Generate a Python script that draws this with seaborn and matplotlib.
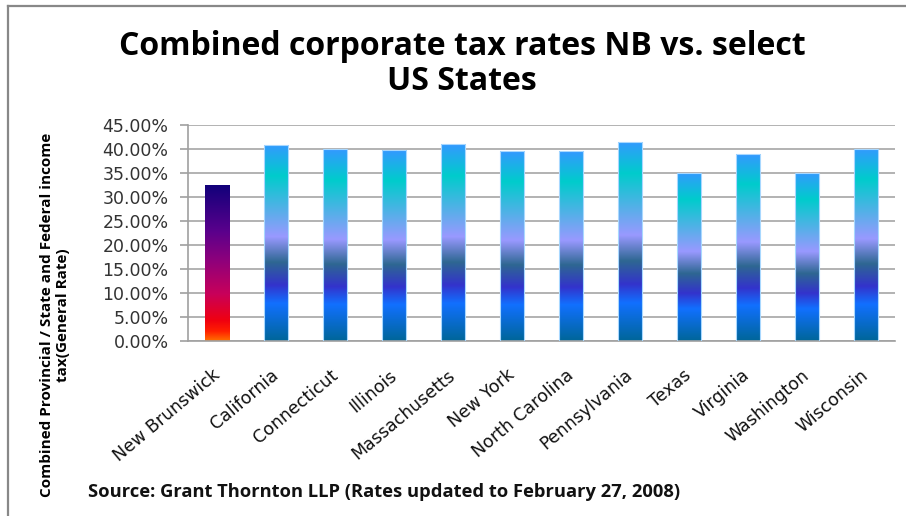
import matplotlib
matplotlib.use('Agg')
import matplotlib.pyplot as plt
import numpy as np
import pandas as pd
import seaborn as sns
from matplotlib.colors import LinearSegmentedColormap
from matplotlib.ticker import PercentFormatter
from matplotlib.lines import Line2D

# Data (percent)
regions = ['New Brunswick', 'California', 'Connecticut', 'Illinois', 'Massachusetts',
           'New York', 'North Carolina', 'Pennsylvania', 'Texas', 'Virginia',
           'Washington', 'Wisconsin']
rates = [32.5, 40.8, 39.9, 39.7, 41.0, 39.5, 39.5, 41.5, 35.0, 38.9, 35.0, 40.0]
yticks = [0, 5, 10, 15, 20, 25, 30, 35, 40, 45]

title = 'Combined corporate tax rates NB vs. select\nUS States'
ylabel = 'Combined Provincial / State and Federal income\ntax(General Rate)'
source = 'Source: Grant Thornton LLP (Rates updated to February 27, 2008)'

df = pd.DataFrame({'region': regions, 'rate': rates})

# gradient fills (bottom -> top)
peacock = LinearSegmentedColormap.from_list('peacock', [
    (0.0, '#006699'), (0.19, '#1170ff'), (0.283, '#3333cc'), (0.40, '#2e6792'),
    (0.53, '#9999ff'), (0.84, '#00cccc'), (1.0, '#3399ff')])
fire = LinearSegmentedColormap.from_list('nb', [
    (0.0, '#ff7000'), (0.06, '#ff2000'), (0.13, '#f00010'), (0.3, '#c8005a'),
    (0.5, '#92007a'), (0.7, '#5a008c'), (1.0, '#10007a')])

fig = plt.figure(figsize=(9.06, 5.16), dpi=100)
ax = fig.add_axes([0.2075, 0.339, 0.7805, 0.419])

sns.barplot(data=df, x='region', y='rate', color='#3399ff', width=0.41, ax=ax, zorder=2)

grad = np.linspace(0, 1, 256).reshape(-1, 1)
for i, patch in enumerate(ax.patches):
    x0 = patch.get_x()
    w = patch.get_width()
    h = patch.get_height()
    cmap = fire if i == 0 else peacock
    im = ax.imshow(grad, cmap=cmap, origin='lower', aspect='auto',
                   extent=[x0, x0 + w, 0, h], zorder=2)
    im.set_clip_path(patch)
    patch.set_facecolor('none')
    patch.set_edgecolor('none' if i == 0 else '#a8d8ff')
    patch.set_linewidth(0.8)
    patch.set_zorder(3)

ax.set_xlim(-0.5, len(regions) - 0.5)
ax.set_ylim(0, 45)
ax.set_yticks(yticks)
ax.yaxis.set_major_formatter(PercentFormatter(xmax=100, decimals=2))
ax.grid(axis='y', color='#a6a6a6', linewidth=1.2, zorder=0)
ax.set_axisbelow(True)
for s in ['top', 'right']:
    ax.spines[s].set_visible(False)
for s in ['left', 'bottom']:
    ax.spines[s].set_color('#a0a0a0')
    ax.spines[s].set_linewidth(1.2)
ax.tick_params(axis='y', length=6, color='#a0a0a0', width=1.2, labelsize=12.5,
               labelcolor='#333333', pad=8)
ax.tick_params(axis='x', length=0, pad=23)
ax.set_xlabel('')
ax.set_ylabel('')
ax.set_xticks(range(len(regions)))
ax.set_xticklabels(regions, rotation=40, ha='right', va='center',
                   rotation_mode='anchor', fontsize=12.5, color='#111111')
for lab in ax.get_yticklabels():
    lab.set_family('DejaVu Sans')

fig.text(0.51, 0.876, title, ha='center', va='center', fontsize=23,
         fontweight='bold', family='Open Sans', linespacing=1.1)
fig.text(0.061, 0.39, ylabel, rotation=90, ha='center', va='center', fontsize=11,
         fontweight='bold', family='Open Sans', multialignment='center', linespacing=1.15)
fig.text(0.097, 0.047, source, ha='left', va='center', fontsize=13.2,
         fontweight='bold', family='Open Sans', color='#111111')

# outer frame (top and left edges)
fig.add_artist(Line2D([8 / 906, 1], [1 - 6 / 516, 1 - 6 / 516], color='#888888',
                      linewidth=1.6, transform=fig.transFigure))
fig.add_artist(Line2D([8 / 906, 8 / 906], [0, 1 - 6 / 516], color='#888888',
                      linewidth=1.6, transform=fig.transFigure))

fig.savefig('out.png', dpi=100)
